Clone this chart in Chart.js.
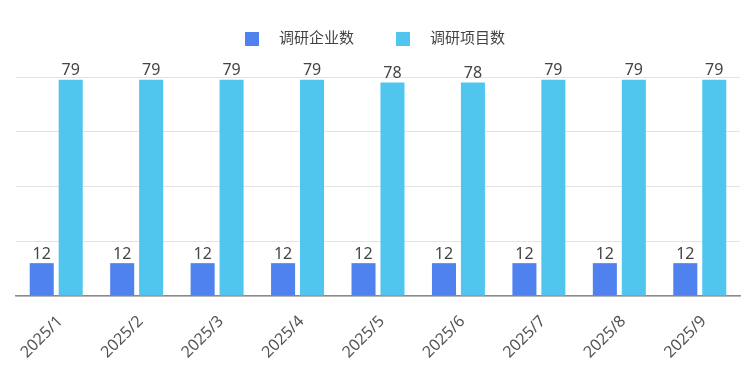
<!DOCTYPE html>
<html><head><meta charset="utf-8">
<script src="https://cdn.jsdelivr.net/npm/chart.js@4/dist/chart.umd.min.js"></script>
<style>html,body{margin:0;padding:0;background:#fff}#wrap{width:750px;height:370px}</style>
</head><body><div id="wrap"><canvas id="c" width="750" height="370"></canvas></div>
<script>
const categories = ['2025/1','2025/2','2025/3','2025/4','2025/5','2025/6','2025/7','2025/8','2025/9'];
const seriesNames = ['调研企业数','调研项目数'];
const enterprises = [12,12,12,12,12,12,12,12,12];
const projects = [79,79,79,79,78,78,79,79,79];
const colors = ['#4f81ef','#50c6ee'];
const FONT = "'Noto Sans','Noto Sans CJK SC',sans-serif";

const legendPlugin = {
  id: 'customLegend',
  afterDraw(chart) {
    const ctx = chart.ctx;
    ctx.save();
    ctx.font = '15px ' + FONT;
    const box = 14, gap = 20, between = 42;
    const items = chart.data.datasets.map(d => ({label: d.label, color: d.backgroundColor, w: ctx.measureText(d.label).width}));
    let total = items.reduce((s, it) => s + box + gap + it.w, 0) + between * (items.length - 1);
    let x = (chart.width - total) / 2;
    const cy = 39;
    items.forEach(it => {
      ctx.fillStyle = it.color;
      ctx.fillRect(x, cy - box / 2, box, box);
      ctx.fillStyle = '#444';
      ctx.textBaseline = 'middle';
      ctx.textAlign = 'left';
      ctx.fillText(it.label, x + box + gap, cy);
      x += box + gap + it.w + between;
    });
    ctx.restore();
  }
};

const valueLabels = {
  id: 'valueLabels',
  afterDatasetsDraw(chart) {
    const ctx = chart.ctx;
    ctx.save();
    ctx.font = '16px ' + FONT;
    ctx.fillStyle = '#444';
    ctx.textAlign = 'center';
    ctx.textBaseline = 'bottom';
    chart.data.datasets.forEach((ds, i) => {
      chart.getDatasetMeta(i).data.forEach((bar, j) => {
        ctx.fillText(String(ds.data[j]), bar.x, bar.y - 1);
      });
    });
    ctx.restore();
  }
};

new Chart(document.getElementById('c'), {
  type: 'bar',
  data: {
    labels: categories,
    datasets: [
      {label: seriesNames[0], data: enterprises, backgroundColor: colors[0]},
      {label: seriesNames[1], data: projects, backgroundColor: colors[1]}
    ]
  },
  options: {
    responsive: false,
    animation: false,
    events: [],
    categoryPercentage: 0.72,
    barPercentage: 0.83,
    layout: {padding: {top: 77, left: 16, right: 10, bottom: 0}},
    plugins: {legend: {display: false}, tooltip: {enabled: false}},
    scales: {
      x: {
        afterFit(scale) { scale.height = 74; },
        grid: {display: false, drawTicks: false},
        border: {display: true, color: '#8a8a8a', width: 1.5},
        ticks: {minRotation: 45, maxRotation: 45, padding: 16, labelOffset: 4, color: '#555', font: {size: 16, family: FONT}}
      },
      y: {
        min: 0, max: 80,
        ticks: {display: false, stepSize: 20},
        grid: {color: '#e3e3e3', drawTicks: false},
        border: {display: false}
      }
    }
  },
  plugins: [legendPlugin, valueLabels]
});
</script></body></html>
